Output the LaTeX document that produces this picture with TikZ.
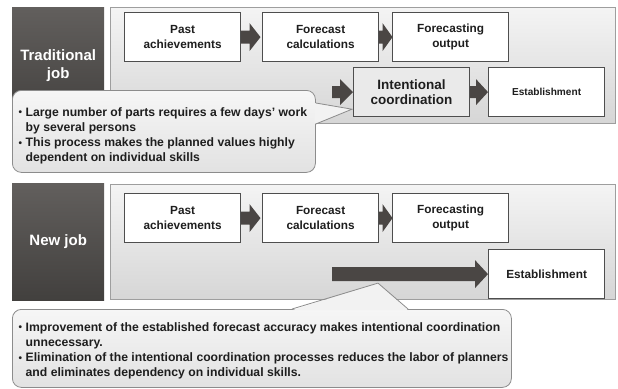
\documentclass[tikz,border=0pt]{standalone}
\usepackage{fontspec}
\setmainfont{Liberation Sans}
\usetikzlibrary{calc}

\definecolor{labtop}{RGB}{98,95,93}
\definecolor{labbot}{RGB}{66,64,62}
\definecolor{paneltop}{RGB}{244,244,244}
\definecolor{panelbot}{RGB}{214,214,214}
\definecolor{panelline}{RGB}{158,158,158}
\definecolor{boxline}{RGB}{78,78,78}
\definecolor{coordfill}{RGB}{234,234,234}
\definecolor{arrowc}{RGB}{74,70,68}
\definecolor{calltop}{RGB}{246,246,246}
\definecolor{callbot}{RGB}{226,226,226}
\definecolor{callline}{RGB}{140,140,140}
\definecolor{calltipfill}{RGB}{242,242,242}
\definecolor{inktext}{RGB}{30,30,30}

\tikzset{
  joblabel/.style={anchor=north west, minimum width=92pt, minimum height=116pt,
    inner sep=0pt, top color=labtop, bottom color=labbot, draw=none,
    text=white, align=center, font=\bfseries\fontsize{15}{18}\selectfont},
  panel/.style={anchor=north west, minimum width=505pt, minimum height=116pt,
    inner sep=0pt, top color=paneltop, bottom color=panelbot,
    draw=panelline, line width=0.8pt},
  stepbox/.style={anchor=north west, minimum width=116pt, minimum height=49pt,
    inner sep=0pt, fill=white, draw=boxline, line width=1.2pt, align=center,
    text=inktext, font=\bfseries\fontsize{11.8}{15}\selectfont},
  coordbox/.style={stepbox, fill=coordfill,
    font=\bfseries\fontsize{13.5}{15}\selectfont},
  smallstep/.style={stepbox, font=\bfseries\fontsize{10.1}{12}\selectfont},
  callout/.style={anchor=north west, inner sep=0pt, rounded corners=9pt,
    top color=calltop, bottom color=callbot, draw=callline, line width=0.8pt},
  callptr/.style={fill=calltipfill, draw=none},
  callptrline/.style={draw=callline, line width=0.8pt, line join=miter},
  notetext/.style={anchor=north west, inner sep=0pt, align=left, text=inktext,
    font=\bfseries\fontsize{12.2}{15.2}\selectfont},
}

% filled block arrow from #1 to #2: shaft half height #3, head half height #4, head length #5
\newcommand\blockarrow[5]{%
  \fill[arrowc] let \p1=(#1), \p2=(#2) in
    (\x1,\y1+#3) -- (\x2-#5,\y1+#3) -- (\x2-#5,\y1+#4) -- (\x2,\y1)
    -- (\x2-#5,\y1-#4) -- (\x2-#5,\y1-#3) -- (\x1,\y1-#3) -- cycle;}

% small bullet hung to the left of the text column
\newcommand\bul{\llap{\raisebox{0.1ex}{\fontsize{10}{10}\selectfont\textbullet}\hspace{3.5pt}}}

\begin{document}
\begin{tikzpicture}[x=1pt,y=-1pt]
\useasboundingbox[fill=white] (0,0) rectangle (618,388);

% ---------------- traditional job ----------------
\node[panel] (panel1) at (110,7) {};
\node[joblabel] (label1) at (12,7) {Traditional\\job};

\node[stepbox] (past1) at (124,12) {Past\\achievements};
\node[stepbox] (calc1) at (262,12) {Forecast\\calculations};
\node[stepbox] (out1)  at (392,12) {Forecasting\\output};
\node[coordbox] (coord1) at (353,67) {Intentional\\coordination};
\node[smallstep] (est1) at (488,67) {Establishment};

\path (coord1.west) ++(-21,0) coordinate (in1);
\path (calc1.west) ++(-1.5,0) coordinate (calc1in);
\path (out1.west) ++(0.5,0) coordinate (out1in);

\blockarrow{past1.east}{calc1in}{6.5pt}{14pt}{11pt}
\blockarrow{calc1.east}{out1in}{6.5pt}{14pt}{10pt}
\blockarrow{in1}{coord1.west}{6pt}{13pt}{13pt}
\blockarrow{coord1.east}{est1.west}{6pt}{13pt}{12pt}

% note with pointer to the coordination step
\node[callout, minimum width=303pt, minimum height=82pt] (note1) at (12,90) {};
\coordinate (tip1) at ($(coord1.south west)+(-1,-8)$);
\fill[callptr] ($(note1.north east)+(-1.2,13)$) -- (tip1) -- ($(note1.north east)+(-1.2,34)$) -- cycle;
\draw[callptrline] ($(note1.north east)+(0,13)$) -- (tip1) -- ($(note1.north east)+(0,34)$);
\node[notetext] (note1text) at (25.5,107.3)
  {\mbox{\bul Large number of parts requires a few days’ work}\\
   \mbox{by several persons}\\
   \mbox{\bul This process makes the planned values highly}\\
   \mbox{dependent on individual skills}};

% ---------------- new job ----------------
\node[panel, minimum height=115pt] (panel2) at (110,184) {};
\node[joblabel, minimum height=117pt] (label2) at (12,183) {New job};

\node[stepbox] (past2) at (124,193) {Past\\achievements};
\node[stepbox] (calc2) at (262,193) {Forecast\\calculations};
\node[stepbox] (out2)  at (392,193) {Forecasting\\output};
\node[stepbox] (est2)  at (488,249) {Establishment};

\path (calc2.west) ++(-1.5,0) coordinate (calc2in);
\path (out2.west) ++(0.5,0) coordinate (out2in);
\path (est2.west) ++(-156,0) coordinate (in2);

\blockarrow{past2.east}{calc2in}{6.5pt}{14pt}{11pt}
\blockarrow{calc2.east}{out2in}{6.5pt}{14pt}{10pt}
\blockarrow{in2}{est2.west}{7pt}{14pt}{13pt}

% note with pointer to the direct arrow
\node[callout, minimum width=499pt, minimum height=78pt] (note2) at (12,309) {};
\coordinate (tip2) at ($(in2)+(46,9)$);
\fill[callptr] ($(note2.north west)+(280,1.2)$) -- (tip2) -- ($(note2.north west)+(396,1.2)$) -- cycle;
\draw[callptrline] ($(note2.north west)+(280,0)$) -- (tip2) -- ($(note2.north west)+(396,0)$);
\node[notetext] (note2text) at (25.5,322.3)
  {\mbox{\bul Improvement of the established forecast accuracy makes intentional coordination}\\
   \mbox{unnecessary.}\\
   \mbox{\bul Elimination of the intentional coordination processes reduces the labor of planners}\\
   \mbox{and eliminates dependency on individual skills.}};
\end{tikzpicture}
\end{document}
